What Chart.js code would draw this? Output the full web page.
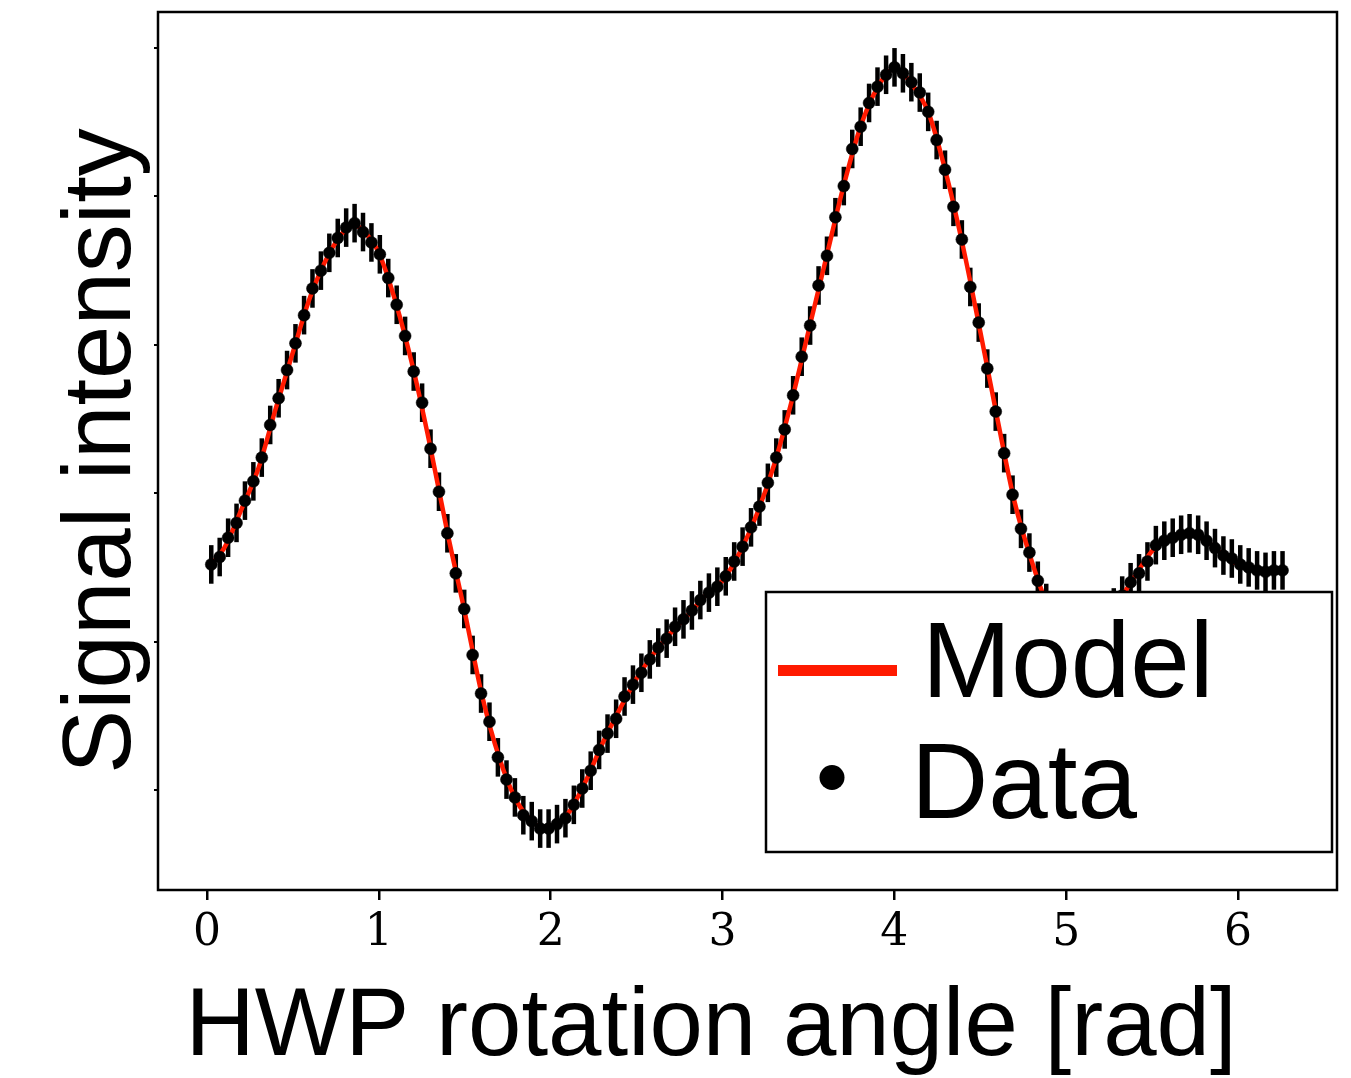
<!DOCTYPE html>
<html>
<head>
<meta charset="utf-8">
<script src="https://cdn.jsdelivr.net/npm/chart.js@4.4.1/dist/chart.umd.min.js"></script>
<style>
  html, body { margin: 0; padding: 0; background: #fff; overflow: hidden; }
  #wrap { position: relative; width: 1351px; height: 1078px; }
</style>
</head>
<body>
<div id="wrap"><canvas id="hwpChart"></canvas></div>
<script>
// HWP angle of each measurement [rad]
const angles = [
  0.025, 0.074, 0.123, 0.172, 0.221, 0.270, 0.319, 0.368, 0.417, 0.466,
  0.515, 0.565, 0.614, 0.663, 0.712, 0.761, 0.810, 0.859, 0.908, 0.957,
  1.006, 1.055, 1.104, 1.153, 1.203, 1.252, 1.301, 1.350, 1.399, 1.448,
  1.497, 1.546, 1.595, 1.644, 1.693, 1.743, 1.792, 1.841, 1.890, 1.939,
  1.988, 2.037, 2.086, 2.135, 2.184, 2.233, 2.282, 2.331, 2.381, 2.430,
  2.479, 2.528, 2.577, 2.626, 2.675, 2.724, 2.773, 2.822, 2.871, 2.921,
  2.970, 3.019, 3.068, 3.117, 3.166, 3.215, 3.264, 3.313, 3.362, 3.411,
  3.461, 3.510, 3.559, 3.608, 3.657, 3.706, 3.755, 3.804, 3.853, 3.902,
  3.952, 4.001, 4.050, 4.099, 4.148, 4.197, 4.246, 4.295, 4.344, 4.393,
  4.442, 4.491, 4.541, 4.590, 4.639, 4.688, 4.737, 4.786, 4.835, 4.884,
  4.933, 4.982, 5.032, 5.081, 5.130, 5.179, 5.228, 5.277, 5.326, 5.375,
  5.424, 5.473, 5.522, 5.571, 5.620, 5.669, 5.718, 5.768, 5.817, 5.866,
  5.915, 5.964, 6.013, 6.062, 6.111, 6.160, 6.209, 6.259
];

// measured signal (arb. units)
const signal = [
  1.52, 1.57, 1.70, 1.80, 1.95, 2.08, 2.24, 2.46, 2.64, 2.83,
  3.01, 3.20, 3.38, 3.50, 3.62, 3.72, 3.79, 3.82, 3.76, 3.69,
  3.61, 3.45, 3.27, 3.06, 2.82, 2.61, 2.30, 2.01, 1.73, 1.46,
  1.22, 0.91, 0.65, 0.46, 0.22, 0.07, -0.05, -0.17, -0.21, -0.26,
  -0.26, -0.23, -0.19, -0.10, 0.01, 0.13, 0.27, 0.38, 0.48, 0.63,
  0.71, 0.79, 0.88, 0.96, 1.02, 1.10, 1.15, 1.21, 1.28, 1.33,
  1.37, 1.44, 1.54, 1.64, 1.77, 1.91, 2.07, 2.24, 2.43, 2.66,
  2.92, 3.13, 3.40, 3.60, 3.86, 4.07, 4.32, 4.47, 4.63, 4.74,
  4.82, 4.87, 4.83, 4.77, 4.70, 4.57, 4.38, 4.18, 3.93, 3.71,
  3.39, 3.15, 2.84, 2.55, 2.27, 1.99, 1.76, 1.60, 1.41, 1.26,
  1.13, 1.04, 0.98, 0.96, 0.98, 1.04, 1.13, 1.23, 1.31, 1.40,
  1.46, 1.54, 1.65, 1.68, 1.70, 1.72, 1.73, 1.72, 1.68, 1.63,
  1.58, 1.56, 1.52, 1.50, 1.48, 1.47, 1.48, 1.48
];

// 1-sigma error on every point
const sigma = 0.13;

// fitted model curve
const modelAngles = [
  0.025, 0.1, 0.2, 0.3, 0.4, 0.5, 0.6, 0.7, 0.8, 0.85, 0.9, 1.0,
  1.1, 1.2, 1.3, 1.4, 1.5, 1.6, 1.7, 1.8, 1.9, 1.95, 2.0, 2.1,
  2.2, 2.3, 2.4, 2.5, 2.6, 2.7, 2.8, 2.9, 3.0, 3.1, 3.2, 3.3,
  3.4, 3.5, 3.6, 3.7, 3.8, 3.9, 4.0, 4.1, 4.2, 4.3, 4.4, 4.5,
  4.6, 4.7, 4.8, 4.9, 5.0, 5.05, 5.1, 5.2, 5.3, 5.4, 5.5, 5.6,
  5.7, 5.8, 5.9, 6.0, 6.1, 6.2, 6.259
];
const modelSignal = [
  1.52, 1.63, 1.89, 2.17, 2.57, 2.95, 3.32, 3.59, 3.77, 3.81, 3.78, 3.62,
  3.28, 2.84, 2.31, 1.73, 1.20, 0.64, 0.22, -0.07, -0.22, -0.25, -0.25, -0.16,
  0.05, 0.31, 0.54, 0.75, 0.92, 1.06, 1.18, 1.31, 1.41, 1.60, 1.86, 2.19,
  2.61, 3.09, 3.57, 4.05, 4.46, 4.73, 4.86, 4.76, 4.56, 4.16, 3.66, 3.09,
  2.50, 1.94, 1.54, 1.22, 1.03, 0.97, 0.98, 1.08, 1.26, 1.44, 1.61, 1.70,
  1.73, 1.69, 1.60, 1.52, 1.48, 1.47, 1.48
];

const xTickValues = [0, 1, 2, 3, 4, 5, 6];
const yTickValues = [0, 1, 2, 3, 4, 5];
const xTitle = 'HWP rotation angle [rad]';
const yTitle = 'Signal intensity';
const legendLabels = ['Model', 'Data'];

const modelColor = '#ff1a00';
const sansFont = '"Liberation Sans", Arial, sans-serif';

// vertical error bars, drawn under the curve and markers
const errorBars = {
  id: 'errorBars',
  beforeDatasetsDraw(chart) {
    const { ctx, chartArea: a, scales: { x, y } } = chart;
    ctx.save();
    ctx.beginPath();
    ctx.rect(a.left, a.top, a.right - a.left, a.bottom - a.top);
    ctx.clip();
    ctx.strokeStyle = '#000';
    ctx.lineWidth = 4.5;
    angles.forEach((ang, i) => {
      const px = x.getPixelForValue(ang);
      ctx.beginPath();
      ctx.moveTo(px, y.getPixelForValue(signal[i] + sigma));
      ctx.lineTo(px, y.getPixelForValue(signal[i] - sigma));
      ctx.stroke();
    });
    ctx.restore();
  }
};

// frame, axis titles and the boxed legend
const decorations = {
  id: 'decorations',
  afterDraw(chart) {
    const { ctx, chartArea: a } = chart;
    ctx.save();
    ctx.strokeStyle = '#000';
    ctx.lineWidth = 2.5;
    ctx.strokeRect(a.left, a.top, a.right - a.left, a.bottom - a.top);

    ctx.fillStyle = '#000';
    ctx.font = '96px ' + sansFont;
    ctx.textAlign = 'center';
    ctx.textBaseline = 'alphabetic';
    ctx.fillText(xTitle, 711, 1055);
    ctx.save();
    ctx.translate(130, 451);
    ctx.rotate(-Math.PI / 2);
    ctx.fillText(yTitle, 0, 0);
    ctx.restore();

    // legend box
    ctx.fillStyle = '#fff';
    ctx.fillRect(766, 592, 566, 260);
    ctx.lineWidth = 2.5;
    ctx.strokeStyle = '#000';
    ctx.strokeRect(766, 592, 566, 260);

    ctx.strokeStyle = modelColor;
    ctx.lineWidth = 11;
    ctx.beginPath();
    ctx.moveTo(778, 670.5);
    ctx.lineTo(897, 670.5);
    ctx.stroke();

    ctx.fillStyle = '#000';
    ctx.beginPath();
    ctx.arc(832, 777.5, 12.5, 0, Math.PI * 2);
    ctx.fill();

    ctx.font = '107px ' + sansFont;
    ctx.textAlign = 'left';
    ctx.fillText(legendLabels[0], 922, 697);
    ctx.fillText(legendLabels[1], 911, 818);
    ctx.restore();
  }
};

new Chart(document.getElementById('hwpChart'), {
  type: 'scatter',
  data: {
    datasets: [
      {
        label: legendLabels[1],
        data: angles.map((a, i) => ({ x: a, y: signal[i] })),
        showLine: false,
        pointRadius: 6,
        pointBorderWidth: 0.5,
        pointBackgroundColor: '#000',
        pointBorderColor: '#000',
        order: 1
      },
      {
        label: legendLabels[0],
        type: 'line',
        data: modelAngles.map((a, i) => ({ x: a, y: modelSignal[i] })),
        borderColor: modelColor,
        borderWidth: 4.5,
        pointRadius: 0,
        fill: false,
        cubicInterpolationMode: 'monotone',
        order: 2
      }
    ]
  },
  options: {
    responsive: true,
    maintainAspectRatio: false,
    animation: false,
    layout: { padding: { top: 12, right: 14, left: 0, bottom: 0 } },
    plugins: {
      legend: { display: false },
      tooltip: { enabled: false }
    },
    scales: {
      x: {
        type: 'linear',
        min: -0.285,
        max: 6.576,
        afterBuildTicks(scale) {
          scale.ticks = xTickValues.map(v => ({ value: v }));
        },
        afterFit(scale) { scale.height = 188; },
        ticks: {
          color: '#000',
          padding: 7,
          maxRotation: 0,
          autoSkip: false,
          font: { family: '"DejaVu Serif", serif', size: 44 },
          callback: (v) => String(v)
        },
        grid: { drawOnChartArea: false, drawTicks: true, tickLength: 10, color: '#000', lineWidth: 2.5 },
        border: { display: false }
      },
      y: {
        type: 'linear',
        min: -0.674,
        max: 5.243,
        afterBuildTicks(scale) {
          scale.ticks = yTickValues.map(v => ({ value: v }));
        },
        afterFit(scale) { scale.width = 158; },
        ticks: { callback: () => '' },
        grid: { drawOnChartArea: false, drawTicks: true, tickLength: 4, color: '#000', lineWidth: 2 },
        border: { display: false }
      }
    }
  },
  plugins: [errorBars, decorations]
});
</script>
</body>
</html>
